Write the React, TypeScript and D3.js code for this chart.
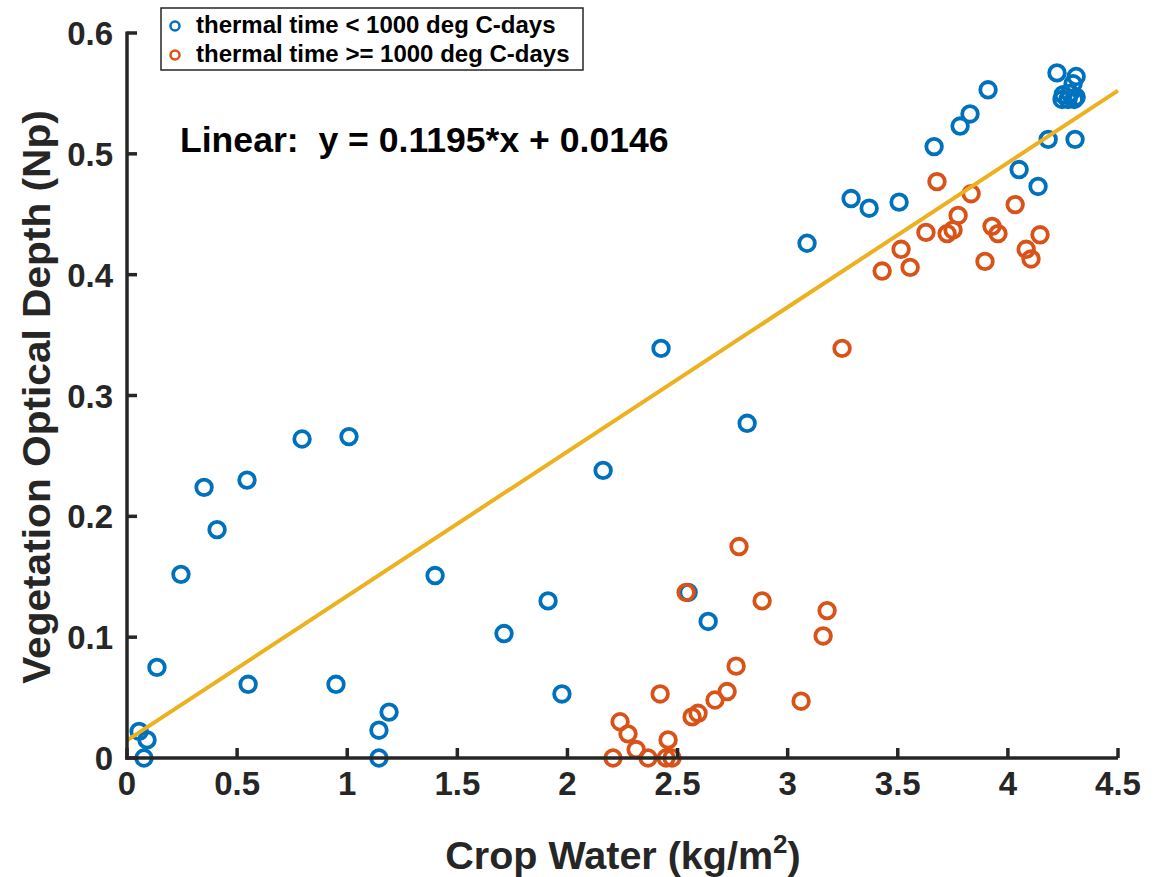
import React from "react";
import * as d3 from "d3";

// Crop water (kg/m^2) vs vegetation optical depth (Np)
const earlyX = [0.055, 0.091, 0.077, 0.136, 0.245, 0.350, 0.409, 0.545, 0.550, 0.795, 0.949, 1.008, 1.144, 1.190, 1.144, 1.399, 1.712, 1.912, 1.975, 2.162, 2.425, 2.548, 2.639, 2.816, 3.088, 3.288, 3.370, 3.506, 3.665, 3.783, 3.828, 3.910, 4.051, 4.137, 4.183, 4.305, 4.223, 4.310, 4.296, 4.251, 4.282, 4.310, 4.246, 4.273, 4.301];
const earlyY = [0.022, 0.015, 0.000, 0.075, 0.152, 0.224, 0.189, 0.230, 0.061, 0.264, 0.061, 0.266, 0.023, 0.038, 0.000, 0.151, 0.103, 0.130, 0.053, 0.238, 0.339, 0.137, 0.113, 0.277, 0.426, 0.463, 0.455, 0.460, 0.506, 0.523, 0.533, 0.553, 0.487, 0.473, 0.512, 0.512, 0.567, 0.564, 0.558, 0.549, 0.550, 0.547, 0.545, 0.545, 0.545];

const lateX = [2.207, 2.239, 2.275, 2.312, 2.366, 2.421, 2.448, 2.457, 2.475, 2.539, 2.566, 2.593, 2.670, 2.725, 2.766, 2.779, 2.884, 3.061, 3.161, 3.179, 3.247, 3.429, 3.515, 3.556, 3.628, 3.678, 3.724, 3.751, 3.774, 3.833, 3.896, 3.928, 3.955, 4.033, 4.083, 4.105, 4.146];
const lateY = [0.000, 0.030, 0.020, 0.007, 0.000, 0.053, 0.000, 0.015, 0.000, 0.137, 0.034, 0.037, 0.048, 0.055, 0.076, 0.175, 0.130, 0.047, 0.101, 0.122, 0.339, 0.403, 0.421, 0.406, 0.435, 0.477, 0.434, 0.437, 0.449, 0.467, 0.411, 0.440, 0.434, 0.458, 0.421, 0.413, 0.433];

const slope = 0.1195;
const intercept = 0.0146;

const xTicks = [0, 0.5, 1, 1.5, 2, 2.5, 3, 3.5, 4, 4.5];
const yTicks = [0, 0.1, 0.2, 0.3, 0.4, 0.5, 0.6];
const legendLabels = ["thermal time < 1000 deg C-days", "thermal time >= 1000 deg C-days"];

const BLUE = "#0072BD";
const ORANGE = "#D95319";
const YELLOW = "#EDB120";
const AXIS = "#262626";
const FONT = "'Liberation Sans', Arial, Helvetica, sans-serif";

export default function App() {
  const width = 1161;
  const height = 877;
  const left = 127, right = 1118, top = 33, bottom = 758;

  const x = d3.scaleLinear().domain([0, 4.5]).range([left, right]);
  const y = d3.scaleLinear().domain([0, 0.6]).range([bottom, top]);

  const fitLine = d3.line<number>()
    .x((d) => x(d))
    .y((d) => y(slope * d + intercept));

  const fmt = (v: number) => (v === 0 ? "0" : String(v));

  const early = earlyX.map((v, i) => [v, earlyY[i]]);
  const late = lateX.map((v, i) => [v, lateY[i]]);

  return (
    <svg width={width} height={height} style={{ position: "absolute", left: 0, top: 0, background: "#fff" }}>
      <rect width={width} height={height} fill="#fff" />

      {/* early-season markers */}
      {early.map(([a, b], i) => (
        <circle key={"e" + i} cx={x(a)} cy={y(b)} r={7.8} fill="none" stroke={BLUE} strokeWidth={3.8} />
      ))}
      {/* late-season markers */}
      {late.map(([a, b], i) => (
        <circle key={"l" + i} cx={x(a)} cy={y(b)} r={7.8} fill="none" stroke={ORANGE} strokeWidth={3.8} />
      ))}

      {/* linear fit */}
      <path d={fitLine([0, 4.5]) || ""} fill="none" stroke={YELLOW} strokeWidth={4} />

      {/* axes */}
      <g stroke={AXIS} strokeWidth={3.5} fill="none">
        <line x1={left} x2={left} y1={top - 1.5} y2={bottom + 1.75} />
        <line x1={left - 1.75} x2={right} y1={bottom} y2={bottom} />
        {xTicks.map((t) => (
          <line key={"xt" + t} x1={x(t)} x2={x(t)} y1={bottom} y2={bottom - 10} />
        ))}
        {yTicks.map((t) => (
          <line key={"yt" + t} x1={left} x2={left + 10} y1={y(t)} y2={y(t)} />
        ))}
      </g>

      <g fontFamily={FONT} fontWeight="bold" fontSize={33} fill={AXIS}>
        {xTicks.map((t) => (
          <text key={"xl" + t} x={x(t)} y={bottom + 37} textAnchor="middle">{fmt(t)}</text>
        ))}
        {yTicks.map((t) => (
          <text key={"yl" + t} x={left - 14} y={y(t) + 12} textAnchor="end">{fmt(t)}</text>
        ))}
      </g>

      {/* axis titles */}
      <text x={623} y={869} textAnchor="middle" fontFamily={FONT} fontWeight="bold" fontSize={39.5} fill={AXIS}>
        Crop Water (kg/m<tspan dy={-16} fontSize={26}>2</tspan><tspan dy={16}>)</tspan>
      </text>
      <text transform={`translate(50, 397) rotate(-90) scale(1.07, 1)`} textAnchor="middle" fontFamily={FONT} fontWeight="bold" fontSize={38} fill={AXIS}>
        Vegetation Optical Depth (Np)
      </text>

      {/* fit equation */}
      <text x={180} y={152} fontFamily={FONT} fontWeight="bold" fontSize={35.6} fill="#000" style={{ whiteSpace: "pre" }}>
        {"Linear:  y = 0.1195*x + 0.0146"}
      </text>

      {/* legend */}
      <g>
        <rect x={161} y={8} width={422} height={62} fill="#fff" stroke={AXIS} strokeWidth={1.5} />
        {legendLabels.map((lab, i) => (
          <g key={lab}>
            <circle cx={175} cy={26 + i * 29} r={4.5} fill="none" stroke={i === 0 ? BLUE : ORANGE} strokeWidth={2.5} />
            <text x={196} y={33 + i * 29} fontFamily={FONT} fontWeight="bold" fontSize={24} fill="#000">{lab}</text>
          </g>
        ))}
      </g>
    </svg>
  );
}
